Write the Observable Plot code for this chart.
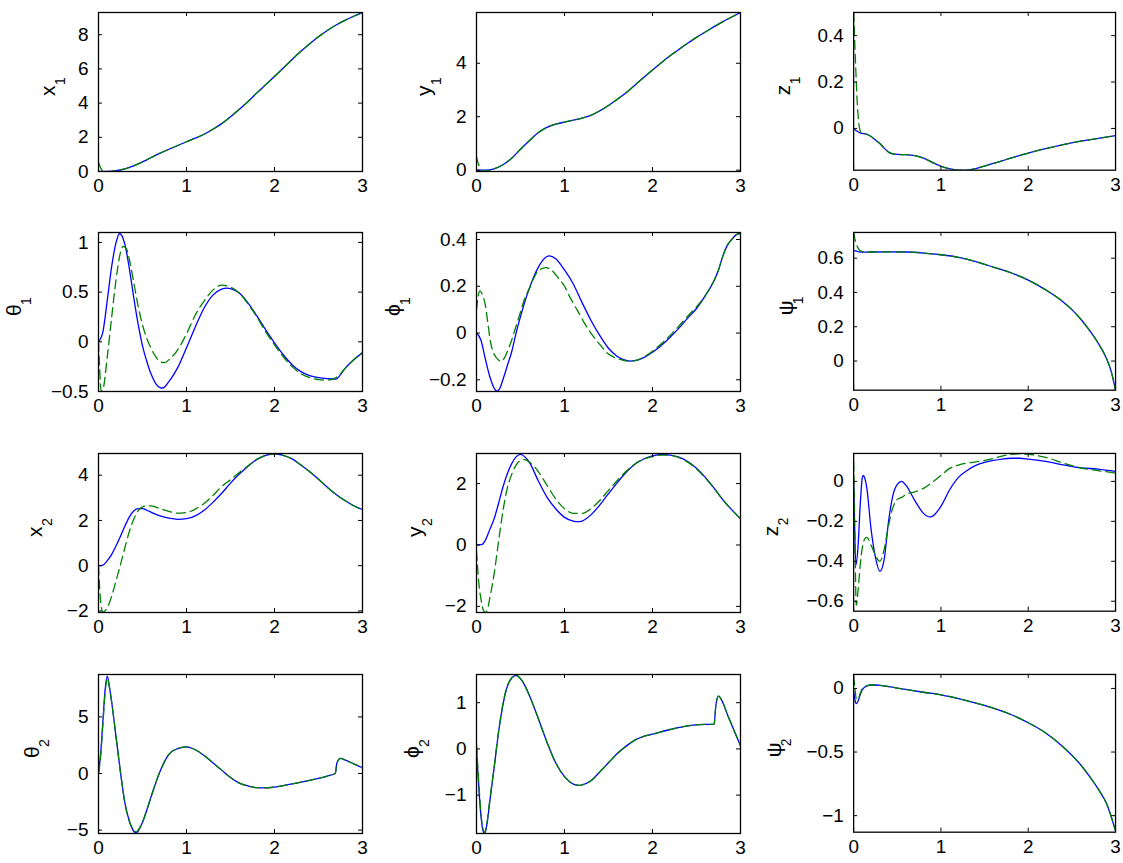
<!DOCTYPE html>
<html><head><meta charset="utf-8">
<script src="https://cdn.jsdelivr.net/npm/d3@7"></script>
<script src="https://cdn.jsdelivr.net/npm/@observablehq/plot@0.6"></script>
<style>
body{margin:0;background:#fff;}
#wrap{position:relative;width:1123px;height:863px;overflow:hidden;background:#fff;}
.panel{position:absolute;}
</style></head><body><div id="wrap"></div>
<script>
// ---- data: [time, value] pairs ----
const xTicks = [0, 1, 2, 3];

const x1Blue = [[0,0],[0.1,0.01],[0.2,0.05],[0.3,0.16],[0.4,0.33],[0.5,0.56],[0.6,0.82],[0.7,1.07],[0.8,1.3],[0.9,1.52],[1.0,1.74],[1.1,1.95],[1.2,2.18],[1.3,2.47],[1.4,2.8],[1.5,3.2],[1.6,3.64],[1.7,4.1],[1.8,4.6],[1.9,5.08],[2.0,5.56],[2.1,6.05],[2.2,6.55],[2.3,7.03],[2.4,7.47],[2.5,7.88],[2.6,8.25],[2.7,8.57],[2.8,8.84],[2.9,9.08],[3.0,9.3]];
const x1Green = [[0,0.55],[0.025,0.2],[0.05,0.02],[0.075,-0.03],[0.1,-0.02],[0.15,0.01],[0.2,0.05],[0.3,0.16],[0.4,0.33],[0.5,0.56],[0.6,0.82],[0.7,1.07],[0.8,1.3],[0.9,1.52],[1.0,1.74],[1.1,1.95],[1.2,2.18],[1.3,2.47],[1.4,2.8],[1.5,3.2],[1.6,3.64],[1.7,4.1],[1.8,4.6],[1.9,5.08],[2.0,5.56],[2.1,6.05],[2.2,6.55],[2.3,7.03],[2.4,7.47],[2.5,7.88],[2.6,8.25],[2.7,8.57],[2.8,8.84],[2.9,9.08],[3.0,9.3]];

const y1Blue = [[0,0],[0.1,0.0],[0.2,0.05],[0.3,0.2],[0.4,0.45],[0.5,0.78],[0.6,1.1],[0.7,1.4],[0.8,1.6],[0.9,1.72],[1.0,1.8],[1.1,1.87],[1.2,1.95],[1.3,2.05],[1.4,2.22],[1.5,2.42],[1.6,2.65],[1.7,2.9],[1.8,3.18],[1.9,3.47],[2.0,3.75],[2.1,4.02],[2.2,4.28],[2.3,4.52],[2.4,4.75],[2.5,4.97],[2.6,5.17],[2.7,5.37],[2.8,5.56],[2.9,5.73],[3.0,5.9]];
const y1Green = [[0,0.5],[0.025,0.2],[0.05,0.04],[0.075,-0.02],[0.1,-0.03],[0.15,-0.01],[0.2,0.05],[0.3,0.2],[0.4,0.45],[0.5,0.78],[0.6,1.1],[0.7,1.4],[0.8,1.6],[0.9,1.72],[1.0,1.8],[1.1,1.87],[1.2,1.95],[1.3,2.05],[1.4,2.22],[1.5,2.42],[1.6,2.65],[1.7,2.9],[1.8,3.18],[1.9,3.47],[2.0,3.75],[2.1,4.02],[2.2,4.28],[2.3,4.52],[2.4,4.75],[2.5,4.97],[2.6,5.17],[2.7,5.37],[2.8,5.56],[2.9,5.73],[3.0,5.9]];

const z1Blue = [[0,0],[0.04,-0.012],[0.08,-0.02],[0.15,-0.025],[0.2,-0.035],[0.25,-0.05],[0.3,-0.065],[0.35,-0.085],[0.4,-0.102],[0.45,-0.11],[0.5,-0.112],[0.6,-0.113],[0.7,-0.117],[0.8,-0.128],[0.9,-0.146],[1.0,-0.163],[1.1,-0.174],[1.2,-0.18],[1.3,-0.18],[1.4,-0.173],[1.5,-0.162],[1.6,-0.151],[1.7,-0.14],[1.8,-0.128],[1.9,-0.117],[2.0,-0.106],[2.2,-0.087],[2.4,-0.07],[2.6,-0.055],[2.8,-0.043],[3.0,-0.031]];
const z1Green = [[0,0.5],[0.02,0.3],[0.04,0.12],[0.06,0.02],[0.08,-0.015],[0.1,-0.022],[0.15,-0.025],[0.2,-0.035],[0.25,-0.05],[0.3,-0.065],[0.35,-0.085],[0.4,-0.102],[0.45,-0.11],[0.5,-0.112],[0.6,-0.113],[0.7,-0.117],[0.8,-0.128],[0.9,-0.146],[1.0,-0.163],[1.1,-0.174],[1.2,-0.18],[1.3,-0.18],[1.4,-0.173],[1.5,-0.162],[1.6,-0.151],[1.7,-0.14],[1.8,-0.128],[1.9,-0.117],[2.0,-0.106],[2.2,-0.087],[2.4,-0.07],[2.6,-0.055],[2.8,-0.043],[3.0,-0.031]];

const theta1Blue = [[0,0],[0.05,0.1],[0.1,0.42],[0.15,0.76],[0.2,1.0],[0.24,1.09],[0.3,0.98],[0.35,0.74],[0.4,0.45],[0.45,0.18],[0.5,-0.04],[0.55,-0.2],[0.6,-0.33],[0.65,-0.42],[0.7,-0.46],[0.73,-0.465],[0.8,-0.4],[0.9,-0.26],[1.0,-0.06],[1.1,0.15],[1.2,0.34],[1.3,0.47],[1.4,0.53],[1.46,0.54],[1.5,0.535],[1.6,0.49],[1.7,0.39],[1.8,0.26],[1.9,0.12],[2.0,-0.01],[2.1,-0.13],[2.2,-0.23],[2.3,-0.3],[2.4,-0.34],[2.5,-0.36],[2.6,-0.37],[2.7,-0.375],[2.75,-0.33],[2.8,-0.27],[2.9,-0.18],[3.0,-0.11]];
const theta1Green = [[0,0],[0.015,-0.3],[0.03,-0.5],[0.05,-0.48],[0.1,-0.15],[0.15,0.25],[0.2,0.63],[0.25,0.9],[0.28,0.96],[0.32,0.93],[0.36,0.79],[0.4,0.6],[0.45,0.36],[0.5,0.17],[0.55,0.03],[0.6,-0.07],[0.65,-0.15],[0.7,-0.2],[0.75,-0.21],[0.8,-0.18],[0.9,-0.08],[1.0,0.08],[1.1,0.27],[1.2,0.41],[1.3,0.52],[1.4,0.57],[1.5,0.55],[1.6,0.49],[1.7,0.38],[1.8,0.25],[1.9,0.1],[2.0,-0.03],[2.1,-0.15],[2.2,-0.25],[2.3,-0.32],[2.4,-0.36],[2.5,-0.38],[2.6,-0.385],[2.7,-0.36],[2.75,-0.32],[2.8,-0.27],[2.9,-0.18],[3.0,-0.11]];

const phi1Blue = [[0,0],[0.05,-0.03],[0.1,-0.11],[0.15,-0.185],[0.2,-0.235],[0.23,-0.248],[0.26,-0.24],[0.3,-0.2],[0.35,-0.14],[0.4,-0.08],[0.45,0.0],[0.5,0.07],[0.55,0.135],[0.6,0.19],[0.65,0.24],[0.7,0.28],[0.75,0.31],[0.83,0.33],[0.9,0.318],[1.0,0.27],[1.1,0.21],[1.2,0.13],[1.3,0.055],[1.4,-0.01],[1.5,-0.065],[1.6,-0.1],[1.7,-0.117],[1.75,-0.12],[1.8,-0.118],[1.9,-0.105],[2.0,-0.082],[2.1,-0.053],[2.2,-0.018],[2.3,0.021],[2.4,0.064],[2.5,0.105],[2.6,0.16],[2.7,0.225],[2.75,0.27],[2.8,0.33],[2.85,0.375],[2.9,0.4],[2.95,0.42],[3.0,0.426]];
const phi1Green = [[0,0.1],[0.02,0.16],[0.04,0.18],[0.06,0.17],[0.1,0.12],[0.13,0.04],[0.16,-0.04],[0.2,-0.09],[0.25,-0.115],[0.28,-0.121],[0.32,-0.105],[0.36,-0.07],[0.4,-0.03],[0.45,0.03],[0.5,0.09],[0.55,0.15],[0.6,0.19],[0.65,0.235],[0.7,0.265],[0.79,0.28],[0.85,0.27],[0.92,0.24],[1.0,0.2],[1.07,0.147],[1.15,0.095],[1.22,0.047],[1.3,0.0],[1.41,-0.053],[1.5,-0.09],[1.56,-0.103],[1.65,-0.115],[1.72,-0.12],[1.8,-0.118],[1.9,-0.103],[2.0,-0.078],[2.1,-0.046],[2.2,-0.01],[2.3,0.03],[2.4,0.072],[2.5,0.112],[2.6,0.16],[2.7,0.225],[2.75,0.27],[2.8,0.33],[2.85,0.375],[2.9,0.4],[2.95,0.42],[3.0,0.426]];

const psi1Blue = [[0,0.645],[0.05,0.638],[0.1,0.635],[0.2,0.636],[0.4,0.637],[0.6,0.636],[0.8,0.63],[1.0,0.62],[1.2,0.605],[1.4,0.58],[1.6,0.548],[1.8,0.515],[2.0,0.472],[2.2,0.415],[2.4,0.345],[2.5,0.3],[2.6,0.245],[2.7,0.18],[2.8,0.105],[2.9,0.01],[2.95,-0.06],[3.0,-0.17]];
const psi1Green = [[0,0.75],[0.02,0.7],[0.05,0.66],[0.08,0.642],[0.1,0.638],[0.15,0.636],[0.2,0.636],[0.4,0.637],[0.6,0.636],[0.8,0.63],[1.0,0.62],[1.2,0.605],[1.4,0.58],[1.6,0.548],[1.8,0.515],[2.0,0.472],[2.2,0.415],[2.4,0.345],[2.5,0.3],[2.6,0.245],[2.7,0.18],[2.8,0.105],[2.9,0.01],[2.95,-0.06],[3.0,-0.17]];

const x2Blue = [[0,0],[0.05,0.03],[0.1,0.22],[0.15,0.5],[0.2,0.88],[0.25,1.3],[0.3,1.75],[0.35,2.15],[0.4,2.42],[0.45,2.52],[0.5,2.52],[0.55,2.45],[0.6,2.36],[0.7,2.2],[0.8,2.1],[0.9,2.05],[1.0,2.08],[1.1,2.2],[1.2,2.45],[1.3,2.8],[1.4,3.2],[1.5,3.65],[1.6,4.05],[1.7,4.4],[1.8,4.7],[1.9,4.88],[2.0,4.95],[2.1,4.88],[2.2,4.72],[2.3,4.45],[2.4,4.15],[2.5,3.82],[2.6,3.47],[2.7,3.15],[2.8,2.88],[2.9,2.65],[3.0,2.48]];
const x2Green = [[0,0],[0.025,-1.6],[0.05,-2.05],[0.1,-1.85],[0.15,-1.35],[0.2,-0.65],[0.25,0.05],[0.3,0.8],[0.35,1.5],[0.4,2.05],[0.45,2.42],[0.5,2.6],[0.55,2.65],[0.6,2.64],[0.7,2.52],[0.8,2.4],[0.9,2.32],[1.0,2.35],[1.1,2.5],[1.2,2.75],[1.3,3.1],[1.4,3.5],[1.5,3.8],[1.6,4.12],[1.7,4.42],[1.8,4.7],[1.9,4.88],[2.0,4.95],[2.1,4.88],[2.2,4.72],[2.3,4.45],[2.4,4.15],[2.5,3.82],[2.6,3.47],[2.7,3.15],[2.8,2.88],[2.9,2.65],[3.0,2.48]];

const y2Blue = [[0,0],[0.05,0.01],[0.075,0.04],[0.1,0.15],[0.15,0.5],[0.2,0.85],[0.25,1.35],[0.3,1.88],[0.35,2.32],[0.4,2.65],[0.45,2.87],[0.5,2.95],[0.55,2.87],[0.6,2.7],[0.7,2.1],[0.8,1.56],[0.9,1.18],[1.0,0.9],[1.1,0.78],[1.15,0.76],[1.2,0.78],[1.3,0.98],[1.4,1.3],[1.5,1.67],[1.6,2.03],[1.7,2.37],[1.8,2.63],[1.9,2.8],[2.0,2.9],[2.1,2.95],[2.2,2.93],[2.3,2.86],[2.4,2.72],[2.5,2.5],[2.6,2.2],[2.7,1.85],[2.8,1.47],[2.9,1.15],[3.0,0.85]];
const y2Green = [[0,-0.2],[0.025,-1.2],[0.05,-1.75],[0.075,-2.1],[0.1,-2.2],[0.125,-2.1],[0.15,-1.75],[0.2,-0.95],[0.25,0.1],[0.3,1.1],[0.35,1.85],[0.4,2.3],[0.45,2.6],[0.5,2.75],[0.55,2.78],[0.6,2.7],[0.7,2.4],[0.8,1.95],[0.9,1.5],[1.0,1.18],[1.1,1.03],[1.2,1.03],[1.3,1.18],[1.4,1.45],[1.5,1.78],[1.6,2.1],[1.7,2.4],[1.8,2.64],[1.9,2.8],[2.0,2.88],[2.1,2.93],[2.2,2.92],[2.3,2.85],[2.4,2.7],[2.5,2.48],[2.6,2.18],[2.7,1.84],[2.8,1.47],[2.9,1.15],[3.0,0.85]];

const z2Blue = [[0,0],[0.01,-0.2],[0.025,-0.42],[0.05,-0.33],[0.075,-0.12],[0.1,0.02],[0.11,0.03],[0.125,0.02],[0.15,-0.03],[0.2,-0.24],[0.25,-0.38],[0.3,-0.45],[0.35,-0.39],[0.4,-0.2],[0.45,-0.07],[0.5,-0.015],[0.55,0.0],[0.6,-0.02],[0.7,-0.095],[0.8,-0.16],[0.87,-0.178],[0.9,-0.175],[1.0,-0.125],[1.1,-0.042],[1.2,0.02],[1.3,0.055],[1.4,0.08],[1.5,0.095],[1.6,0.105],[1.7,0.112],[1.8,0.116],[1.9,0.116],[2.0,0.112],[2.2,0.1],[2.4,0.083],[2.6,0.068],[2.8,0.062],[3.0,0.05]];
const z2Green = [[0,0.1],[0.015,-0.3],[0.03,-0.62],[0.05,-0.55],[0.075,-0.42],[0.1,-0.33],[0.125,-0.29],[0.15,-0.28],[0.2,-0.32],[0.25,-0.37],[0.3,-0.4],[0.35,-0.34],[0.4,-0.22],[0.45,-0.13],[0.5,-0.09],[0.55,-0.08],[0.6,-0.065],[0.7,-0.052],[0.8,-0.035],[0.9,-0.005],[1.0,0.03],[1.1,0.065],[1.2,0.082],[1.3,0.092],[1.4,0.098],[1.5,0.105],[1.6,0.115],[1.7,0.127],[1.8,0.135],[1.9,0.138],[2.0,0.136],[2.2,0.12],[2.4,0.092],[2.6,0.068],[2.8,0.054],[3.0,0.042]];

const theta2Blue = [[0,0],[0.025,1.8],[0.05,4.6],[0.075,7.4],[0.1,8.6],[0.125,7.6],[0.15,6.3],[0.2,3.2],[0.25,0.1],[0.3,-2.6],[0.35,-4.2],[0.4,-5.1],[0.43,-5.25],[0.45,-5.1],[0.5,-4.3],[0.55,-3.2],[0.6,-2.0],[0.7,0.2],[0.8,1.7],[0.9,2.2],[1.0,2.35],[1.1,2.1],[1.2,1.6],[1.3,0.95],[1.4,0.3],[1.5,-0.35],[1.6,-0.85],[1.7,-1.1],[1.8,-1.25],[1.9,-1.27],[2.0,-1.2],[2.1,-1.07],[2.2,-0.92],[2.3,-0.76],[2.4,-0.6],[2.5,-0.42],[2.6,-0.22],[2.69,0.0],[2.71,0.95],[2.75,1.33],[2.8,1.2],[2.9,0.85],[3.0,0.5]];
const theta2Green = [[0,0],[0.025,1.6],[0.05,4.4],[0.075,7.1],[0.1,8.4],[0.125,7.6],[0.15,6.3],[0.2,3.2],[0.25,0.1],[0.3,-2.6],[0.35,-4.2],[0.4,-5.0],[0.43,-5.15],[0.45,-5.0],[0.5,-4.3],[0.55,-3.2],[0.6,-2.0],[0.7,0.2],[0.8,1.7],[0.9,2.2],[1.0,2.35],[1.1,2.1],[1.2,1.6],[1.3,0.95],[1.4,0.3],[1.5,-0.35],[1.6,-0.85],[1.7,-1.1],[1.8,-1.25],[1.9,-1.27],[2.0,-1.2],[2.1,-1.07],[2.2,-0.92],[2.3,-0.76],[2.4,-0.6],[2.5,-0.42],[2.6,-0.22],[2.69,0.0],[2.71,0.95],[2.75,1.33],[2.8,1.2],[2.9,0.85],[3.0,0.5]];

const phi2Blue = [[0,0],[0.025,-0.8],[0.05,-1.44],[0.075,-1.78],[0.09,-1.83],[0.1,-1.8],[0.125,-1.55],[0.15,-1.15],[0.2,-0.42],[0.25,0.35],[0.3,0.95],[0.35,1.35],[0.4,1.53],[0.45,1.59],[0.5,1.52],[0.55,1.37],[0.6,1.16],[0.7,0.67],[0.8,0.15],[0.9,-0.3],[1.0,-0.6],[1.1,-0.76],[1.17,-0.79],[1.2,-0.78],[1.3,-0.69],[1.4,-0.5],[1.5,-0.3],[1.6,-0.1],[1.7,0.06],[1.8,0.19],[1.9,0.27],[2.0,0.32],[2.2,0.42],[2.4,0.5],[2.6,0.53],[2.7,0.535],[2.72,0.94],[2.75,1.14],[2.8,1.0],[2.85,0.75],[2.9,0.52],[3.0,0.07]];
const phi2Green = [[0,0.1],[0.025,-0.7],[0.05,-1.38],[0.075,-1.74],[0.09,-1.8],[0.1,-1.78],[0.125,-1.52],[0.15,-1.12],[0.2,-0.4],[0.25,0.37],[0.3,0.97],[0.35,1.36],[0.4,1.54],[0.45,1.59],[0.5,1.52],[0.55,1.37],[0.6,1.16],[0.7,0.67],[0.8,0.15],[0.9,-0.3],[1.0,-0.6],[1.1,-0.76],[1.17,-0.79],[1.2,-0.78],[1.3,-0.69],[1.4,-0.5],[1.5,-0.3],[1.6,-0.1],[1.7,0.06],[1.8,0.19],[1.9,0.27],[2.0,0.32],[2.2,0.42],[2.4,0.5],[2.6,0.53],[2.7,0.535],[2.72,0.94],[2.75,1.14],[2.8,1.0],[2.85,0.75],[2.9,0.52],[3.0,0.07]];

const psi2Blue = [[0,-0.02],[0.015,-0.09],[0.03,-0.12],[0.05,-0.1],[0.075,-0.05],[0.1,-0.01],[0.15,0.02],[0.2,0.027],[0.25,0.027],[0.3,0.024],[0.4,0.015],[0.5,0.003],[0.6,-0.008],[0.8,-0.03],[1.0,-0.05],[1.2,-0.08],[1.4,-0.115],[1.6,-0.155],[1.8,-0.205],[2.0,-0.27],[2.2,-0.35],[2.4,-0.46],[2.6,-0.6],[2.7,-0.69],[2.8,-0.79],[2.9,-0.91],[3.0,-1.12]];
const psi2Green = [[0,0.1],[0.015,0.0],[0.03,-0.08],[0.05,-0.09],[0.075,-0.04],[0.1,0.0],[0.15,0.02],[0.2,0.027],[0.25,0.027],[0.3,0.024],[0.4,0.015],[0.5,0.003],[0.6,-0.008],[0.8,-0.03],[1.0,-0.05],[1.2,-0.08],[1.4,-0.115],[1.6,-0.155],[1.8,-0.205],[2.0,-0.27],[2.2,-0.35],[2.4,-0.46],[2.6,-0.6],[2.7,-0.69],[2.8,-0.79],[2.9,-0.91],[3.0,-1.12]];

// axis labels (symbol + subscript), y domains and y tick values, in panel order
const symbols = ["x","y","z","θ","ϕ","ψ","x","y","z","θ","ϕ","ψ"];
const subscripts = ["1","1","1","1","1","1","2","2","2","2","2","2"];
const yDomains = [[0,9.3],[-0.05,5.9],[-0.18,0.5],[-0.5,1.1],[-0.25,0.43],[-0.17,0.75],[-2.07,4.96],[-2.2,2.98],[-0.65,0.14],[-5.3,8.75],[-1.83,1.61],[-1.13,0.11]];
const yTicks = [[0,2,4,6,8],[0,2,4],[0,0.2,0.4],[-0.5,0,0.5,1],[-0.2,0,0.2,0.4],[0,0.2,0.4,0.6],[-2,0,2,4],[-2,0,2],[-0.6,-0.4,-0.2,0],[-5,0,5],[-1,0,1],[-1,-0.5,0]];
const blueSeries = [x1Blue,y1Blue,z1Blue,theta1Blue,phi1Blue,psi1Blue,x2Blue,y2Blue,z2Blue,theta2Blue,phi2Blue,psi2Blue];
const greenSeries = [x1Green,y1Green,z1Green,theta1Green,phi1Green,psi1Green,x2Green,y2Green,z2Green,theta2Green,phi2Green,psi2Green];

// ---- layout ----
const colLeft = [98, 476, 854], rowTop = [12, 232, 453, 674];
const labelDx = [-50,-52,-71,-84,-83,-68,-63,-61,-83,-66,-64,-80];
const W = 264, H = 159, ML = 110, MR = 8, MT = 6, MB = 36;
const fmt = d => (d < 0 ? "\u2212" + Math.abs(d) : String(d));
const wrap = document.getElementById("wrap");

blueSeries.forEach((blue, i) => {
  const col = i % 3, row = Math.floor(i / 3);
  const dom = yDomains[i];
  const chart = Plot.plot({
    width: ML + W + MR, height: MT + H + MB,
    marginLeft: ML, marginRight: MR, marginTop: MT, marginBottom: MB,
    x: {domain: [0, 3]},
    y: {domain: dom},
    style: {fontFamily: "'Liberation Sans', Arial, Helvetica, sans-serif", fontSize: "19px", color: "black", background: "transparent", overflow: "visible"},
    marks: [
      Plot.line(blue, {x: d => d[0], y: d => d[1], stroke: "#0000ff", strokeWidth: 1.3, curve: "monotone-x", clip: true}),
      Plot.line(greenSeries[i], {x: d => d[0], y: d => d[1], stroke: "#008000", strokeWidth: 1.3, strokeDasharray: "9,5", curve: "monotone-x", clip: true}),
      Plot.tickX(xTicks, {x: d => d, insetTop: H - 4, stroke: "black", strokeWidth: 1}),
      Plot.tickX(xTicks, {x: d => d, insetBottom: H - 4, stroke: "black", strokeWidth: 1}),
      Plot.tickY(yTicks[i], {y: d => d, insetRight: W - 4, stroke: "black", strokeWidth: 1}),
      Plot.tickY(yTicks[i], {y: d => d, insetLeft: W - 4, stroke: "black", strokeWidth: 1}),
      Plot.frame({stroke: "black", strokeWidth: 1.3}),
      Plot.axisX({ticks: xTicks, tickSize: 0, tickPadding: 7, tickFormat: fmt, label: null, fontSize: 19}),
      Plot.axisY({ticks: yTicks[i], tickSize: 0, tickPadding: 10, tickFormat: fmt, label: null, fontSize: 19}),
      Plot.text([symbols[i]], {frameAnchor: "left", text: d => d, dx: labelDx[i], dy: 4, rotate: -90, fontSize: 21, fill: "black"}),
      Plot.text([subscripts[i]], {frameAnchor: "left", text: d => d, dx: labelDx[i] + 12, dy: -7, rotate: -90, fontSize: 14, fill: "black"})
    ]
  });
  const div = document.createElement("div");
  div.className = "panel";
  div.style.left = (colLeft[col] - ML) + "px";
  div.style.top = (rowTop[row] - MT) + "px";
  div.appendChild(chart);
  wrap.appendChild(div);
});
</script>
</body></html>
